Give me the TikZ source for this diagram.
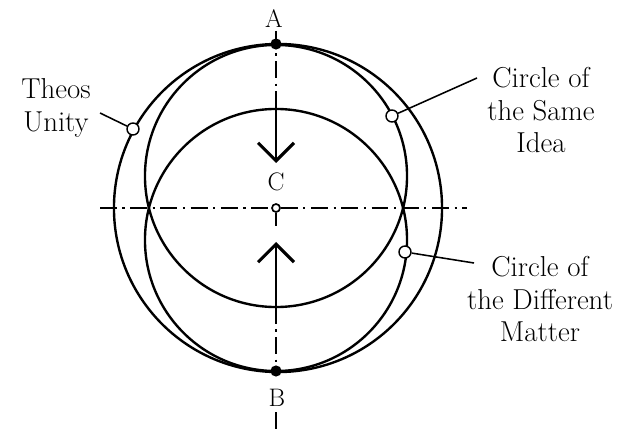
\documentclass[tikz,border=0pt]{standalone}
\usetikzlibrary{arrows.meta}
\begin{document}
\begin{tikzpicture}[x=0.025cm, y=-0.025cm,
    curve/.style={line width=1.7pt},
    axis/.style={line width=0.8pt, dash pattern=on 12pt off 4pt on 1.5pt off 4pt},
    marker/.style={circle, draw, line width=1pt, fill=white, inner sep=0pt, minimum size=0.3cm},
    dot/.style={circle, fill, inner sep=0pt, minimum size=0.28cm},
    leader/.style={line width=1.1pt},
    lbl/.style={font=\fontsize{20.5}{23}\selectfont, align=center},
    pt/.style={font=\fontsize{18}{20}\selectfont},
    chev/.style={line width=1pt, -{Straight Barb[length=4.5mm, width=9mm, line width=2.2pt]}}]
  \useasboundingbox (0,0) rectangle (640,433);

  % Centres and axis ends
  \coordinate (C) at (276,208);
  \coordinate (same) at (276,176);
  \coordinate (diff) at (276,240);
  \coordinate (hL) at (100,208);
  \coordinate (hR) at (467,208);
  \coordinate (vTop) at (276,31);
  \coordinate (vBot) at (276,433);
  \coordinate (vLow) at (276,412);
  \coordinate (lensT) at (276,109);
  \coordinate (lensB) at (276,307);
  \coordinate (downTip) at (276,163);
  \coordinate (upTip) at (276,242);
  \coordinate (cEnd) at (276,226);

  % Circles
  \draw[curve] (278,208) circle[radius=4.1cm];
  \draw[curve] (same) circle[radius=3.275cm];
  \draw[curve] (diff) circle[radius=3.275cm];

  % Points
  \node[dot] (A) at (276,44) {};
  \node[dot] (B) at (276,371) {};
  \node[circle, draw, line width=1.2pt, fill=white, inner sep=0pt, minimum size=0.2cm] (cMark) at (C) {};
  \node[pt] (labA) at (274,19) {A};
  \node[pt] (labB) at (277,398) {B};
  \node[pt] (labC) at (276,182) {C};

  % Axes
  \draw[axis] (hL) -- (cMark);
  \draw[axis] (cMark) -- (hR);
  \draw[axis] (vTop) -- (lensT);
  \draw[axis] (cMark) -- (cEnd);
  \draw[axis] (lensB) -- (B);
  \draw[axis] (vLow) -- (vBot);
  \draw[chev] (lensT) -- (downTip);
  \draw[chev] (lensB) -- (upTip);

  % Markers and labels
  \node[marker] (mTheos) at (133,129) {};
  \node[marker] (mSame) at (392,116) {};
  \node[marker] (mDiff) at (405,252) {};
  \node[lbl] (theos) at (56,108) {Theos\\Unity};
  \node[lbl] (sameLab) at (541,110) {Circle of\\the Same\\Idea};
  \node[lbl] (diffLab) at (540,299) {Circle of\\the Different\\Matter};
  \coordinate (eTheos) at (100,113);
  \coordinate (eSame) at (477,78);
  \coordinate (eDiff) at (474,263);
  \draw[leader] (mTheos) -- (eTheos);
  \draw[leader] (mSame) -- (eSame);
  \draw[leader] (mDiff) -- (eDiff);
\end{tikzpicture}
\end{document}
